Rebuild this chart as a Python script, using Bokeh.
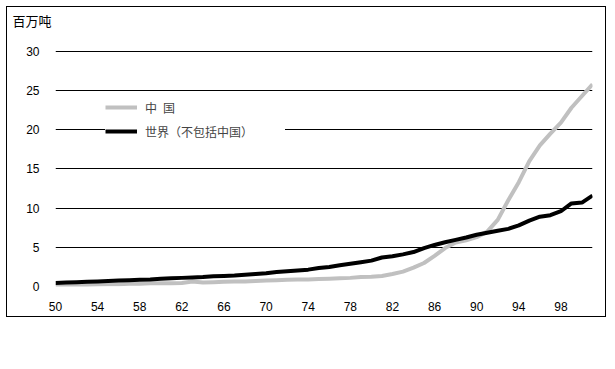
from bokeh.plotting import figure
from bokeh.models import Range1d, FixedTicker, Legend, LegendItem, Title
from bokeh.embed import file_html
from bokeh.resources import INLINE

years = list(range(1950, 2002))
china = [0.1, 0.15, 0.2, 0.2, 0.25, 0.3, 0.3, 0.35, 0.35, 0.4,
         0.4, 0.4, 0.45, 0.65, 0.5, 0.55, 0.6, 0.65, 0.65, 0.7,
         0.75, 0.8, 0.85, 0.9, 0.9, 0.95, 1.0, 1.05, 1.1, 1.2,
         1.25, 1.35, 1.6, 1.9, 2.4, 3.0, 3.9, 4.9, 5.6, 5.9,
         6.3, 7.0, 8.5, 11.0, 13.3, 16.0, 18.0, 19.5, 20.9, 22.8,
         24.3, 25.8]
world_ex_china = [0.45, 0.5, 0.55, 0.6, 0.65, 0.7, 0.75, 0.8, 0.85, 0.9,
                  1.0, 1.05, 1.1, 1.15, 1.2, 1.3, 1.35, 1.4, 1.5, 1.6,
                  1.7, 1.85, 1.95, 2.05, 2.15, 2.35, 2.5, 2.7, 2.9, 3.1,
                  3.3, 3.7, 3.85, 4.1, 4.4, 4.9, 5.3, 5.65, 5.95, 6.25,
                  6.6, 6.85, 7.1, 7.35, 7.8, 8.4, 8.9, 9.1, 9.6, 10.6,
                  10.7, 11.6]
x_ticks = list(range(1950, 2001, 4))
x_tick_labels = ["50", "54", "58", "62", "66", "70", "74", "78", "82", "86", "90", "94", "98"]
y_ticks = [0, 5, 10, 15, 20, 25, 30]
series_names = ["中\u2002国", "世界（不包括中国）"]
unit_label = "百万吨"

FONT = "Liberation Sans"
CJK = "Noto Sans CJK SC"

unit_title = Title(text=unit_label, align="left", offset=-43, standoff=2,
                   vertical_align="middle",
                   text_font=CJK, text_font_size="13px", text_font_style="normal",
                   text_color="black")

# outer box: 1px border at x=6..607, y=6..318
p = figure(width=600, height=311, output_backend="svg", toolbar_location=None,
           x_range=Range1d(1950, 2001), y_range=Range1d(0, 30.1),
           min_border_left=48, min_border_right=15, min_border_top=43, min_border_bottom=32,
           margin=(6, 0, 0, 6), styles={"border": "1px solid black"},
           title=unit_title)
p.outline_line_color = None
p.background_fill_color = "white"
p.border_fill_color = "white"

# empty spacer between the unit label and the plot area
p.add_layout(Title(text=" ", text_font_size="1px", standoff=16), "above")

l1 = p.line(years, china, line_color="#C0C0C0", line_width=4)
l2 = p.line(years, world_ex_china, line_color="black", line_width=4)

p.xaxis.ticker = FixedTicker(ticks=x_ticks)
p.xaxis.major_label_overrides = {t: s for t, s in zip(x_ticks, x_tick_labels)}
p.yaxis.ticker = FixedTicker(ticks=y_ticks)
for ax in (p.xaxis, p.yaxis):
    ax.axis_line_color = None
    ax.major_tick_line_color = None
    ax.minor_tick_line_color = None
    ax.major_label_text_font = FONT
    ax.major_label_text_font_size = "12px"
    ax.major_label_text_color = "black"
p.xaxis.major_label_standoff = 9
p.yaxis.major_label_standoff = 10

p.xgrid.grid_line_color = None
p.ygrid.grid_line_color = "black"
p.ygrid.grid_line_width = 1

legend = Legend(items=[LegendItem(label=series_names[0], renderers=[l1]),
                       LegendItem(label=series_names[1], renderers=[l2])],
                location=(50, 146), orientation="vertical",
                padding=3, spacing=6, glyph_width=32, glyph_height=18,
                label_height=18, label_width=140, label_standoff=8,
                label_text_font=CJK, label_text_font_size="12px",
                border_line_color=None, background_fill_color="white",
                background_fill_alpha=1.0, margin=0)
p.add_layout(legend)

open("out.html", "w").write(file_html(p, INLINE))
